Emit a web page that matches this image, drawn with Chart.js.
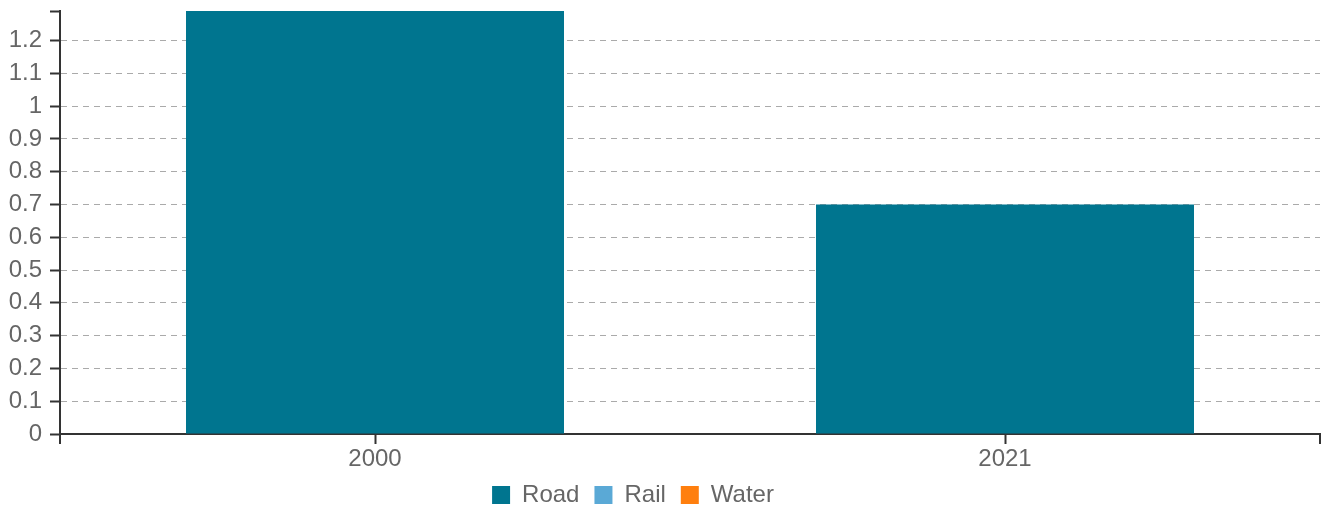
<!DOCTYPE html>
<html>
<head>
<meta charset="utf-8">
<script src="https://cdn.jsdelivr.net/npm/chart.js@4/dist/chart.umd.min.js"></script>
<style>
  html, body { margin: 0; padding: 0; background: #fff; }
</style>
</head>
<body>
<canvas id="freight" width="1330" height="506"></canvas>
<script>
// 운송수단별 값 (2000 / 2021)
const years = ['2000', '2021'];
const road = [1.29, 0.70];
const rail = [0, 0];
const water = [0, 0];
const yStep = 0.1;

const axisColor = '#333';
const textColor = '#666';

const onStep = v => Math.abs(v / yStep - Math.round(v / yStep)) < 1e-6;

Chart.defaults.font.family = '"Liberation Sans", Arial, sans-serif';
Chart.defaults.font.size = 24;
Chart.defaults.color = textColor;

// 축 끝의 바깥 눈금 + 범례/라벨 영역 보정
const axisCaps = {
    id: 'axisCaps',
    afterLayout(chart) {
        const lg = chart.legend;
        lg.top += 11;
        lg.bottom += 11;
        lg.right -= 54;
        // x축 라벨이 잘리지 않게 영역을 아래로 늘림
        chart.scales.x.bottom += 40;
    },
    afterDraw(chart) {
        const {ctx, chartArea: a} = chart;
        ctx.save();
        ctx.strokeStyle = axisColor;
        ctx.lineWidth = 2;
        ctx.beginPath();
        ctx.moveTo(a.left, a.bottom);
        ctx.lineTo(a.left, a.bottom + 10);
        ctx.moveTo(a.right, a.bottom);
        ctx.lineTo(a.right, a.bottom + 10);
        ctx.stroke();
        ctx.restore();
    }
};

const ctx = document.getElementById('freight').getContext('2d');
const myChart = new Chart(ctx, {
    type: 'bar',
    data: {
        labels: years,
        datasets: [{
            label: 'Road',
            data: road,
            backgroundColor: '#00758f',
            borderWidth: 0
        }, {
            label: 'Rail',
            data: rail,
            backgroundColor: '#5aa9d6',
            borderWidth: 0
        }, {
            label: 'Water',
            data: water,
            backgroundColor: '#ff7f0e',
            borderWidth: 0
        }]
    },
    options: {
        responsive: false,
        animation: false,
        layout: {
            padding: {top: 11, right: 10, left: 0, bottom: 0}
        },
        datasets: {
            bar: {barPercentage: 0.6, categoryPercentage: 1.0}
        },
        plugins: {
            tooltip: {enabled: false},
            legend: {
                position: 'bottom',
                labels: {
                    boxWidth: 18,
                    boxHeight: 18,
                    padding: 15,
                    color: textColor,
                    font: {size: 24}
                }
            }
        },
        scales: {
            x: {
                stacked: true,
                grid: {
                    offset: false,
                    drawOnChartArea: false,
                    tickLength: 10,
                    tickColor: axisColor,
                    tickWidth: 2
                },
                border: {color: axisColor, width: 2},
                ticks: {padding: 1, color: textColor},
                afterFit(scale) {
                    scale.height = 23;
                    scale.paddingLeft = 0;
                    scale.paddingRight = 0;
                }
            },
            y: {
                stacked: true,
                min: 0,
                max: Math.max(...road),
                grid: {
                    color: c => (c.tick && onStep(c.tick.value) && c.tick.value !== 0) ? '#aaaaaa' : 'rgba(0,0,0,0)',
                    lineWidth: 1,
                    tickLength: 10,
                    tickColor: axisColor,
                    tickWidth: 2,
                    tickBorderDash: []
                },
                border: {color: axisColor, width: 2, dash: [6, 5]},
                ticks: {
                    stepSize: yStep,
                    padding: 8,
                    color: textColor,
                    callback: v => onStep(v) ? String(+(Math.round(v / yStep) * yStep).toFixed(1)) : ''
                },
                afterFit(scale) {
                    scale.width = 60;
                    scale.paddingTop = 0;
                    scale.paddingBottom = 0;
                }
            }
        }
    },
    plugins: [axisCaps]
});
</script>
</body>
</html>
